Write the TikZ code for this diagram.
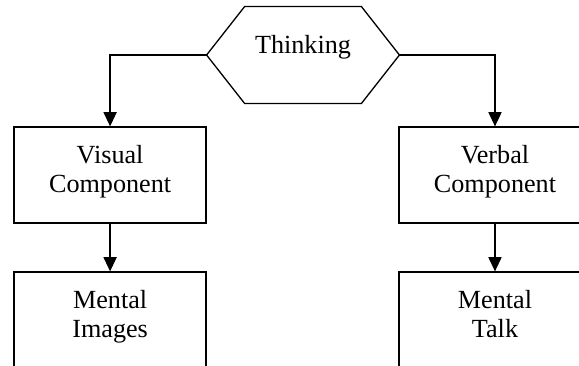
\documentclass[tikz,border=0pt]{standalone}
\usepackage{fontspec}
\setmainfont{Liberation Serif}
\usetikzlibrary{positioning,arrows.meta}

\tikzstyle{comp}=[draw, semithick, minimum width=3.095cm, minimum height=1.548cm, align=center, text depth=5.9pt]
\tikzstyle{hexa}=[minimum width=3.095cm, minimum height=1.548cm, text depth=9.8pt]
\tikzstyle{flow}=[semithick, -{Triangle[length=6.5pt,width=6pt]}]

\begin{document}
\begin{tikzpicture}[node distance=2.338cm, font=\fontsize{12}{13.3}\selectfont]
    \useasboundingbox (-4.885,0.887) rectangle (4.449,-5.013);
    \node [hexa] (think) {Thinking};
    \draw [semithick] (think.west) -- ([xshift=0.613cm]think.north west)
        -- ([xshift=-0.613cm]think.north east) -- (think.east)
        -- ([xshift=-0.613cm]think.south east) -- ([xshift=0.613cm]think.south west) -- cycle;
    \node [comp, node distance=1.935cm, below of=think, xshift=-3.11cm] (visual) {Visual\\Component};
    \node [comp, node distance=1.935cm, below of=think, xshift=3.095cm] (verbal) {Verbal\\Component};
    \node [comp, below of=visual] (images) {Mental\\Images};
    \node [comp, below of=verbal] (talk) {Mental\\Talk};
    \draw [flow] (think.west) -| (visual.north);
    \draw [flow] (think.east) -| (verbal.north);
    \draw [flow] (visual) -- (images);
    \draw [flow] (verbal) -- (talk);
\end{tikzpicture}
\end{document}
